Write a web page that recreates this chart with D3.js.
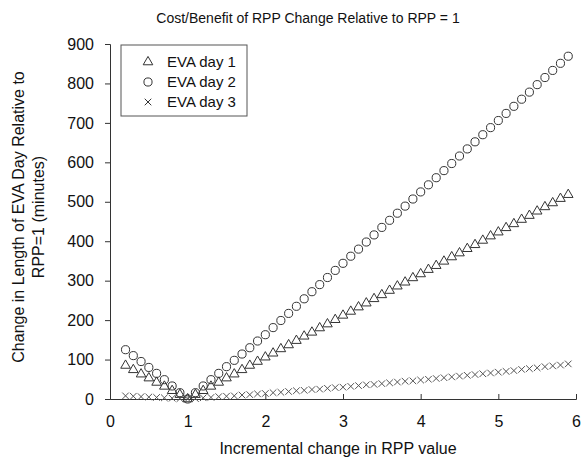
<!DOCTYPE html>
<html lang="en">
<head>
  <meta charset="UTF-8">
  <title>Cost/Benefit of RPP Change</title>
  <script src="https://d3js.org/d3.v7.min.js"></script>
  <style>
    body { margin: 0; background: #fff; }
    svg { font-family: Arial, "Liberation Sans", sans-serif; }
  </style>
</head>
<body>
  <svg id="chart" width="581" height="462"></svg>

  <script>
    // RPP values (x axis)
    const rpp = [0.2, 0.3, 0.4, 0.5, 0.6, 0.7, 0.8, 0.9, 1.0,
      1.1, 1.2, 1.3, 1.4, 1.5, 1.6, 1.7, 1.8, 1.9, 2.0,
      2.1, 2.2, 2.3, 2.4, 2.5, 2.6, 2.7, 2.8, 2.9, 3.0,
      3.1, 3.2, 3.3, 3.4, 3.5, 3.6, 3.7, 3.8, 3.9, 4.0,
      4.1, 4.2, 4.3, 4.4, 4.5, 4.6, 4.7, 4.8, 4.9, 5.0,
      5.1, 5.2, 5.3, 5.4, 5.5, 5.6, 5.7, 5.8, 5.9];

    // change in EVA day length (minutes), one value per rpp entry
    const day1 = [85, 74, 63, 53, 42, 32, 21, 11, 0,
      11, 21, 32, 42, 53, 63, 74, 85, 95, 106,
      116, 127, 137, 148, 159, 169, 180, 190, 201, 212,
      222, 233, 243, 254, 264, 275, 286, 296, 307, 317,
      328, 338, 349, 360, 370, 381, 391, 402, 413, 423,
      434, 444, 455, 465, 476, 487, 497, 508, 518];

    const day2 = [125, 110, 95, 80, 65, 49, 33, 16, 0,
      16, 33, 49, 65, 82, 98, 114, 130, 147, 163,
      181, 199, 217, 235, 254, 272, 290, 308, 326, 344,
      362, 380, 398, 416, 435, 453, 471, 489, 507, 525,
      543, 561, 579, 597, 616, 634, 652, 670, 688, 706,
      724, 742, 760, 778, 797, 815, 833, 851, 869];

    const day3 = [8, 7, 6, 5, 4, 3, 2, 1, 0,
      1, 3, 4, 6, 7, 8, 10, 11, 13, 14,
      16, 17, 19, 21, 22, 24, 25, 27, 29, 30,
      32, 34, 36, 37, 39, 41, 43, 45, 46, 48,
      50, 52, 54, 56, 58, 60, 62, 64, 66, 68,
      70, 72, 75, 77, 79, 82, 84, 86, 89];

    const seriesNames = ["EVA day 1", "EVA day 2", "EVA day 3"];
    const xTicks = [0, 1, 2, 3, 4, 5, 6];
    const yTicks = [0, 100, 200, 300, 400, 500, 600, 700, 800, 900];

    const ink = "#333";
    const margin = { top: 44, right: 5, bottom: 63, left: 110 };
    const width = 581, height = 462;

    const svg = d3.select("#chart");

    const x = d3.scaleLinear().domain([0, 6]).range([margin.left, width - margin.right]);
    const y = d3.scaleLinear().domain([0, 900]).range([height - margin.bottom, margin.top]);

    // marker shapes
    const shapes = [
      d3.symbol().type(d3.symbolTriangle).size(40)(),
      d3.symbol().type(d3.symbolCircle).size(52)(),
      d3.symbol().type(d3.symbolTimes).size(30)()
    ];

    // axes
    const xAxis = svg.append("g")
      .attr("transform", `translate(0,${y(0)})`)
      .call(d3.axisBottom(x).tickValues(xTicks).tickFormat(d3.format("d"))
        .tickSizeInner(-5).tickSizeOuter(-5).tickPadding(17));
    const yAxis = svg.append("g")
      .attr("transform", `translate(${x(0)},0)`)
      .call(d3.axisLeft(y).tickValues(yTicks).tickSizeInner(5).tickSizeOuter(5).tickPadding(11));

    [xAxis, yAxis].forEach(g => {
      g.selectAll("path, line").attr("stroke", ink);
      g.selectAll("text").attr("fill", "#111").style("font-size", "16px")
        .style("font-family", "Arial, 'Liberation Sans', sans-serif");
    });

    // data points
    const allSeries = [day1, day2, day3];
    allSeries.forEach((vals, si) => {
      svg.append("g")
        .selectAll("path")
        .data(vals)
        .enter().append("path")
        .attr("d", shapes[si])
        .attr("transform", (d, i) => `translate(${x(rpp[i])},${y(d)})`)
        .attr("fill", "none")
        .attr("stroke", si === 2 ? "#555" : ink)
        .attr("stroke-width", 1);
    });

    // legend
    const lg = svg.append("g").attr("transform", "translate(121,45)");
    lg.append("rect")
      .attr("width", 126).attr("height", 71)
      .attr("fill", "#fff").attr("stroke", "#555");
    seriesNames.forEach((name, i) => {
      lg.append("path")
        .attr("d", shapes[i])
        .attr("transform", `translate(27,${17 + i * 20})`)
        .attr("fill", "none").attr("stroke", ink);
      lg.append("text")
        .attr("x", 46).attr("y", 17 + i * 20)
        .attr("dy", "0.35em")
        .style("font-size", "15px")
        .attr("fill", "#111")
        .text(name);
    });

    // title
    svg.append("text")
      .attr("x", 308).attr("y", 23)
      .attr("text-anchor", "middle")
      .style("font-size", "14px")
      .attr("fill", "#111")
      .text("Cost/Benefit of RPP Change Relative to RPP = 1");

    // x axis label
    svg.append("text")
      .attr("x", 338).attr("y", 454)
      .attr("text-anchor", "middle")
      .style("font-size", "16px")
      .attr("fill", "#111")
      .text("Incremental change in RPP value");

    // y axis label (two lines)
    const yl = svg.append("text")
      .attr("transform", "translate(24,217) rotate(-90)")
      .attr("text-anchor", "middle")
      .style("font-size", "16px")
      .attr("fill", "#111");
    yl.append("tspan").attr("x", 0).attr("y", 0).text("Change in Length of EVA Day Relative to");
    yl.append("tspan").attr("x", 0).attr("y", 20).text("RPP=1 (minutes)");
  </script>
</body>
</html>
